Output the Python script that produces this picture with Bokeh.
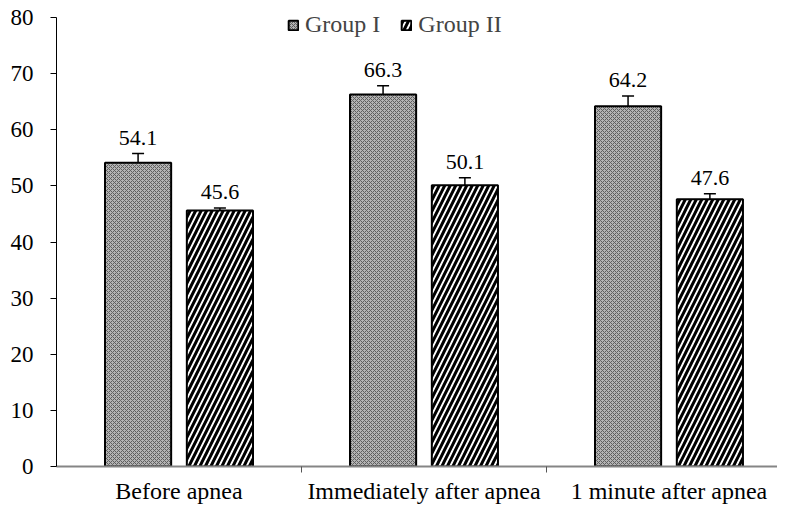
from bokeh.plotting import figure
from bokeh.models import ColumnDataSource, Whisker, FixedTicker, Range1d, Legend, LegendItem, TeeHead
from bokeh.core.properties import value
from bokeh.embed import file_html
from bokeh.resources import INLINE
from bokeh.transform import dodge

categories = ["Before apnea", "Immediately after apnea", "1 minute after apnea"]
group1 = [54.1, 66.3, 64.2]
group1_err = [1.65, 1.55, 1.8]
group2 = [45.6, 50.1, 47.6]
group2_err = [0.45, 1.35, 1.0]
yticks = [0, 10, 20, 30, 40, 50, 60, 70, 80]

FONT = "Liberation Serif"
xc = [i + 0.5 for i in range(len(categories))]

def src(vals, errs):
    return ColumnDataSource(dict(
        x=xc, top=vals,
        upper=[v + e for v, e in zip(vals, errs)],
        lower=[v - e for v, e in zip(vals, errs)],
        label=[f"{v:.1f}" for v in vals],
    ))

s1 = src(group1, group1_err)
s2 = src(group2, group2_err)

p = figure(frame_width=721, frame_height=466, output_backend="svg", toolbar_location=None,
           x_range=Range1d(0, 2.943), y_range=Range1d(0, 80 * 466 / 449),
           min_border_left=56, min_border_right=0, min_border_top=0, min_border_bottom=0)
p.outline_line_color = None
p.grid.visible = False
p.background_fill_color = "white"

off = 0.167
w = 0.27
r1 = p.vbar(x=dodge("x", -off, range=p.x_range), top="top", width=w, source=s1,
            fill_color="#b3b3b3", line_color="black", line_width=2,
            hatch_pattern="diagonal_cross", hatch_color="#5e5e5e", hatch_scale=4, hatch_weight=1)
r2 = p.vbar(x=dodge("x", off, range=p.x_range), top="top", width=w, source=s2,
            fill_color="white", line_color="black", line_width=2,
            hatch_pattern="right_diagonal_line", hatch_color="black", hatch_scale=11, hatch_weight=3)

for s, o in ((s1, -off), (s2, off)):
    wh = Whisker(base=dodge("x", o, range=p.x_range), upper="upper", lower="lower", source=s,
                 line_color="black", line_width=1.5,
                 upper_head=TeeHead(size=12, line_color="black", line_width=1.5),
                 lower_head=TeeHead(size=12, line_color="black", line_width=1.5))
    p.add_layout(wh)
    p.text(x=dodge("x", o, range=p.x_range), y="upper", text="label", source=s,
           text_align="center", text_baseline="alphabetic", y_offset=-16,
           text_font=value(FONT), text_font_size="22px", text_color="black")

# axes
p.yaxis.ticker = FixedTicker(ticks=yticks)
p.yaxis.bounds = (yticks[0], yticks[-1])
p.yaxis.axis_line_color = "black"
p.yaxis.axis_line_width = 1
p.yaxis.major_tick_out = 6
p.yaxis.major_tick_in = 0
p.yaxis.minor_tick_out = 0
p.yaxis.minor_tick_in = 0
p.yaxis.major_label_standoff = 17
p.yaxis.major_label_text_font = FONT
p.yaxis.major_label_text_font_size = "23px"
p.yaxis.major_label_text_color = "black"

p.xaxis.ticker = FixedTicker(ticks=xc, minor_ticks=[1, 2, 3])
p.xaxis.major_label_overrides = {x: c for x, c in zip(xc, categories)}
p.xaxis.axis_line_color = "#858585"
p.xaxis.axis_line_width = 2
p.xaxis.major_tick_out = 0
p.xaxis.major_tick_in = 0
p.xaxis.minor_tick_out = 6
p.xaxis.minor_tick_in = 0
p.xaxis.minor_tick_line_color = "#555555"
p.xaxis.major_label_standoff = 5
p.xaxis.major_label_text_font = FONT
p.xaxis.major_label_text_font_size = "24px"
p.xaxis.major_label_text_color = "black"

legend = Legend(items=[LegendItem(label="Group I", renderers=[r1]),
                       LegendItem(label="Group II", renderers=[r2])],
                orientation="horizontal", location=(231, 428),
                label_text_font=FONT, label_text_font_size="24px",
                glyph_width=12, glyph_height=12, label_standoff=6, spacing=20,
                background_fill_alpha=0, border_line_color=None, padding=0, margin=0)
p.add_layout(legend, "center")

open("out.html", "w").write(file_html(p, INLINE))
